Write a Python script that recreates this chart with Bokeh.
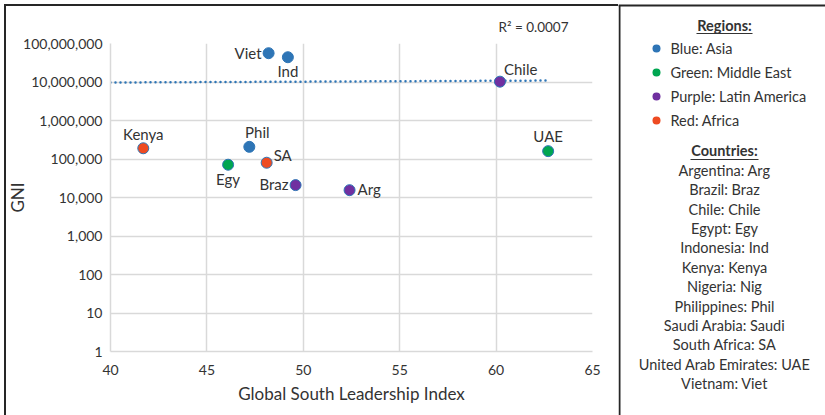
from bokeh.plotting import figure
from bokeh.layouts import row
from bokeh.models import (ColumnDataSource, FixedTicker, NumeralTickFormatter, Range1d, Title)
from bokeh.embed import file_html
from bokeh.resources import INLINE

# ---- data ----
countries = ["Viet", "Ind", "Chile", "Kenya", "Phil", "Egy", "SA", "Braz", "Arg", "UAE"]
gsl_index = [48.2, 49.2, 60.2, 41.7, 47.2, 46.1, 48.1, 49.6, 52.4, 62.7]
gni = [5.6e7, 4.4e7, 1.02e7, 1.9e5, 2.07e5, 7.1e4, 8.0e4, 2.1e4, 1.55e4, 1.6e5]
regions = ["Asia", "Asia", "Latin America", "Africa", "Asia", "Middle East",
           "Africa", "Latin America", "Latin America", "Middle East"]

region_names = ["Asia", "Middle East", "Latin America", "Africa"]
region_labels = ["Blue: Asia", "Green: Middle East", "Purple: Latin America", "Red: Africa"]
region_colors = ["#2E75B6", "#00A651", "#7030A0", "#EE4B22"]

country_list = ["Argentina: Arg", "Brazil: Braz", "Chile: Chile", "Egypt: Egy",
                "Indonesia: Ind", "Kenya: Kenya", "Nigeria: Nig", "Philippines: Phil",
                "Saudi Arabia: Saudi", "South Africa: SA", "United Arab Emirates: UAE",
                "Vietnam: Viet"]

trend_x = [40.0, 62.6]
trend_y = [9.7e6, 1.09e7]
r_squared = "0.0007"

y_ticks = [1, 10, 100, 1000, 10000, 100000, 1000000, 10000000, 100000000]
x_ticks = [40, 45, 50, 55, 60, 65]

# label placement (style only)
lab_align = ["right", "center", "left", "center", "center", "center", "left", "right", "left", "center"]
lab_dx = [-7, 0, 4, 0, 8, 0, 7, -7, 8, 0]
lab_dy = [0, 14, -13, -14, -15, 14, -8, -1, -1, -15]

FONT = "Lato"
TXT = "#333333"
DARK = "#262626"

color_map = dict(zip(region_names, region_colors))
src = ColumnDataSource(dict(x=gsl_index, y=gni, name=countries,
                            color=[color_map[r] for r in regions],
                            align=lab_align, dx=lab_dx, dy=lab_dy))

border_css = {
    "background-image": "linear-gradient(#262626, #262626), linear-gradient(#262626, #262626)",
    "background-size": "2px 411px, 614px 2px",
    "background-position": "4px 4px, 4px 4px",
    "background-repeat": "no-repeat",
}

p = figure(width=618, height=415, output_backend="svg", toolbar_location=None,
           x_range=Range1d(40, 65), y_range=Range1d(1, 1e8), y_axis_type="log",
           min_border_left=110, min_border_right=26, min_border_top=43,
           min_border_bottom=64, outline_line_color=None, background_fill_color="white",
           border_fill_color=None, styles=border_css)
p.frame_align = False

# R squared (title, right aligned)
p.add_layout(Title(text="R\u00b2 = " + r_squared, align="right", offset=24,
                   text_font=FONT, text_font_size="13.5px", text_font_style="normal",
                   text_color=TXT, standoff=18), "above")

# axes
p.xaxis.ticker = FixedTicker(ticks=x_ticks)
p.yaxis.ticker = FixedTicker(ticks=y_ticks)
p.yaxis.formatter = NumeralTickFormatter(format="0,0")
for ax in (p.xaxis[0], p.yaxis[0]):
    ax.major_tick_line_color = None
    ax.minor_tick_line_color = None
    ax.major_tick_out = 0
    ax.major_tick_in = 0
    ax.minor_tick_out = 0
    ax.major_label_text_font = FONT
    ax.major_label_text_font_size = "14px"
    ax.major_label_text_color = TXT
    ax.axis_line_color = "#d9d9d9"
    ax.axis_line_width = 1.5
    ax.axis_label_text_font = FONT
    ax.axis_label_text_font_size = "17px"
    ax.axis_label_text_font_style = "normal"
    ax.axis_label_text_color = TXT
p.yaxis.major_label_standoff = 8
p.xaxis.major_label_standoff = 13
p.xaxis.axis_label = "Global South Leadership Index"
p.xaxis.axis_label_standoff = 5
p.yaxis.axis_label = "GNI"
p.yaxis.axis_label_standoff = -8

p.xgrid.ticker = FixedTicker(ticks=x_ticks)
p.ygrid.ticker = FixedTicker(ticks=y_ticks)
p.grid.grid_line_color = "#d9d9d9"
p.grid.grid_line_width = 1.5

# trendline
p.line(trend_x, trend_y, line_color="#2E75B6", line_width=2.5, line_dash="0 5",
       line_cap="round")

# points
p.scatter("x", "y", source=src, size=11, fill_color="color", line_color="#2E75B6",
          line_width=1)
p.text("x", "y", text="name", source=src, x_offset="dx", y_offset="dy",
       text_align="align", text_baseline="middle", text_font_size="15px",
       text_color=TXT, text_font={"value": FONT})

# ---- legend panel (separate figure, coordinates in page pixels) ----
q = figure(width=207, height=415, output_backend="svg", toolbar_location=None,
           x_range=Range1d(618, 825), y_range=Range1d(415, 0),
           min_border=0, outline_line_color=None, background_fill_color="white",
           border_fill_color="white")
q.frame_align = False
q.axis.visible = False
q.grid.visible = False

q.segment(x0=[619, 618], y0=[4.5, 5], x1=[619, 825], y1=[415, 5], line_color=DARK,
          line_width=2)

cx = 724
q.text(x=[cx], y=[25], text=["Regions:"], text_align="center", text_baseline="middle",
       text_font={"value": FONT}, text_font_style="bold", text_font_size="14.5px",
       text_color=TXT)
q.segment(x0=[696], y0=[33], x1=[752], y1=[33], line_color=TXT, line_width=1.2)

reg_y = [48 + 24 * i for i in range(len(region_labels))]
q.scatter(x=[656] * len(reg_y), y=reg_y, size=8, fill_color=region_colors,
          line_color=None)
q.text(x=[670] * len(reg_y), y=reg_y, text=region_labels, text_align="left",
       text_baseline="middle", text_font={"value": FONT}, text_font_size="14.5px",
       text_color=TXT)

q.text(x=[cx], y=[150], text=["Countries:"], text_align="center", text_baseline="middle",
       text_font={"value": FONT}, text_font_style="bold", text_font_size="14.5px",
       text_color=TXT)
q.segment(x0=[690], y0=[159], x1=[758], y1=[159], line_color=TXT, line_width=1.2)

cty_y = [170 + 19.37 * i for i in range(len(country_list))]
q.text(x=[cx] * len(cty_y), y=cty_y, text=country_list, text_align="center",
       text_baseline="middle", text_font={"value": FONT}, text_font_size="14.5px",
       text_color=TXT)

layout = row(p, q, spacing=0)
open("out.html", "w").write(file_html(layout, INLINE))
